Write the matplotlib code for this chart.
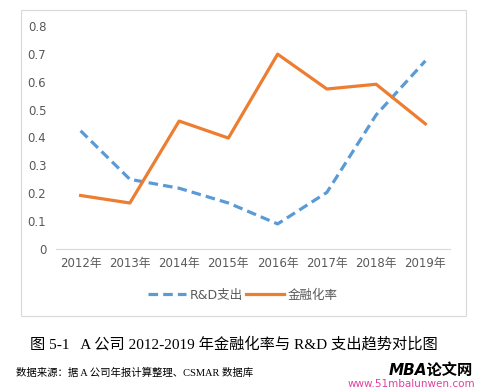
import matplotlib.pyplot as plt
from matplotlib.patches import Rectangle

# 数据
years = ['2012年', '2013年', '2014年', '2015年', '2016年', '2017年', '2018年', '2019年']
rd_spend = [0.424, 0.25, 0.218, 0.165, 0.09, 0.203, 0.481, 0.675]
fin_rate = [0.192, 0.165, 0.459, 0.398, 0.699, 0.574, 0.591, 0.449]
yticks = [0, 0.1, 0.2, 0.3, 0.4, 0.5, 0.6, 0.7, 0.8]

plt.rcParams['font.family'] = ['DejaVu Sans', 'Noto Sans CJK SC']

fig = plt.figure(figsize=(4.78, 3.91), dpi=100)
fig.patch.set_facecolor('white')

# 外框
fig.patches.append(Rectangle((21 / 478, 1 - 316 / 391), 445 / 478, 306 / 391,
                             transform=fig.transFigure, fill=False,
                             edgecolor='#d9d9d9', linewidth=0.8))

ax = fig.add_axes([56 / 478, 1 - 249 / 391, 394 / 478, 223 / 391])
x = range(len(years))
ax.plot(x, rd_spend, color='#5b9bd5', linewidth=2.3, linestyle=(0, (3, 1.6)),
        label='R&D支出')
ax.plot(x, fin_rate, color='#ed7d31', linewidth=2.3, label='金融化率')

ax.set_xlim(-0.5, len(years) - 0.5)
ax.set_ylim(0, 0.8)
ax.set_yticks(yticks)
ax.set_yticklabels([f'{v:g}' for v in yticks])
ax.set_xticks(list(x))
ax.set_xticklabels(years)
for s in ['top', 'right', 'left']:
    ax.spines[s].set_visible(False)
ax.spines['bottom'].set_color('#d9d9d9')
ax.tick_params(length=0, colors='#595959', labelsize=8.5)
ax.tick_params(axis='y', pad=7)
ax.tick_params(axis='x', pad=6)

leg = fig.legend(loc='center', bbox_to_anchor=(243 / 478, 1 - 295 / 391), ncol=2,
                 frameon=False, fontsize=9, handlelength=3, columnspacing=0.3,
                 handletextpad=0.3, labelcolor='#595959')

fig.text(234 / 478, 1 - 344 / 391, '图 5-1   A 公司 2012-2019 年金融化率与 R&D 支出趋势对比图',
         ha='center', va='center', fontsize=11,
         family=['Liberation Serif', 'Noto Sans CJK SC'])
fig.text(16 / 478, 1 - 373 / 391, '数据来源：据 A 公司年报计算整理、CSMAR 数据库',
         ha='left', va='center', fontsize=7.5,
         family=['Liberation Serif', 'Noto Sans CJK SC'])
fig.text(473 / 478, 1 - 370 / 391, 'MBA论文网', ha='right', va='center', fontsize=11,
         fontweight='bold', style='italic', family=['DejaVu Sans', 'Noto Sans CJK SC'])
fig.text(475 / 478, 1 - 384 / 391, 'www.51mbalunwen.com', ha='right', va='center',
         fontsize=7.5, color='#e040a0', family=['DejaVu Sans'])

fig.savefig('out.png', dpi=100)
